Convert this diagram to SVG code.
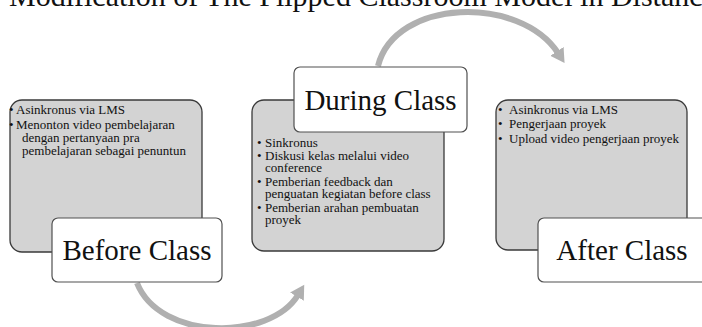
<svg xmlns="http://www.w3.org/2000/svg" width="702" height="327" viewBox="0 0 702 327">
<defs>
<style>
.panel{fill:#d3d3d3;stroke:#3a3a3a;stroke-width:1.3}
.label{fill:#ffffff;stroke:#505050;stroke-width:1.2}
.lt{font-family:"Liberation Serif","Times New Roman",serif;font-size:29px;fill:#111;text-anchor:middle}
.bt{font-family:"Liberation Serif","Times New Roman",serif;font-size:13px;fill:#111}
.title{font-family:"Liberation Serif","Times New Roman",serif;font-size:30px;fill:#111}
.arc{fill:none;stroke:#b0b0b0;stroke-width:6}
</style>
<marker id="ah" markerUnits="userSpaceOnUse" markerWidth="16" markerHeight="18" refX="2" refY="8" orient="auto">
<path d="M0,0 L14,8 L0,16 z" fill="#b0b0b0"/>
</marker>
</defs>
<rect width="702" height="327" fill="#ffffff"/>
<text class="title" x="9" y="6">Modification of The Flipped Classroom Model in Distance</text>
<g id="connectors">
<path class="arc" d="M378,66 C395,-2 520,-5 558,53" marker-end="url(#ah)"/>
<path class="arc" d="M137,283 C160,341 270,341 298,295" marker-end="url(#ah)"/>
</g>
<g id="before">
<rect class="panel" x="10" y="100" width="192" height="152" rx="12"/>
<text class="bt" x="9" y="114">•</text><text class="bt" x="16" y="114">Asinkronus via LMS</text>
<text class="bt" x="9" y="129">•</text><text class="bt" x="16" y="129">Menonton video pembelajaran</text>
<text class="bt" x="22" y="142">dengan pertanyaan pra</text>
<text class="bt" x="22" y="155">pembelajaran sebagai penuntun</text>
<rect class="label" x="52" y="218" width="170" height="64" rx="6"/>
<text class="lt" x="137" y="260">Before Class</text>
</g>
<g id="during">
<rect class="panel" x="252" y="100" width="192" height="151" rx="12"/>
<text class="bt" x="257" y="147">•</text><text class="bt" x="265" y="147">Sinkronus</text>
<text class="bt" x="257" y="160">•</text><text class="bt" x="265" y="160">Diskusi kelas melalui video</text>
<text class="bt" x="265" y="172">conference</text>
<text class="bt" x="257" y="186">•</text><text class="bt" x="265" y="186">Pemberian feedback dan</text>
<text class="bt" x="265" y="198">penguatan kegiatan before class</text>
<text class="bt" x="257" y="212">•</text><text class="bt" x="265" y="212">Pemberian arahan pembuatan</text>
<text class="bt" x="265" y="224">proyek</text>
<rect class="label" x="294" y="67" width="173" height="65" rx="6"/>
<text class="lt" x="380.5" y="110">During Class</text>
</g>
<g id="after">
<rect class="panel" x="496" y="100" width="191" height="150" rx="12"/>
<text class="bt" x="498" y="114">•</text><text class="bt" x="509" y="114">Asinkronus via LMS</text>
<text class="bt" x="498" y="128">•</text><text class="bt" x="509" y="128">Pengerjaan proyek</text>
<text class="bt" x="498" y="143">•</text><text class="bt" x="509" y="143">Upload video pengerjaan proyek</text>
<rect class="label" x="538" y="218" width="170" height="64" rx="6"/>
<text class="lt" x="622" y="260">After Class</text>
</g>
</svg>
